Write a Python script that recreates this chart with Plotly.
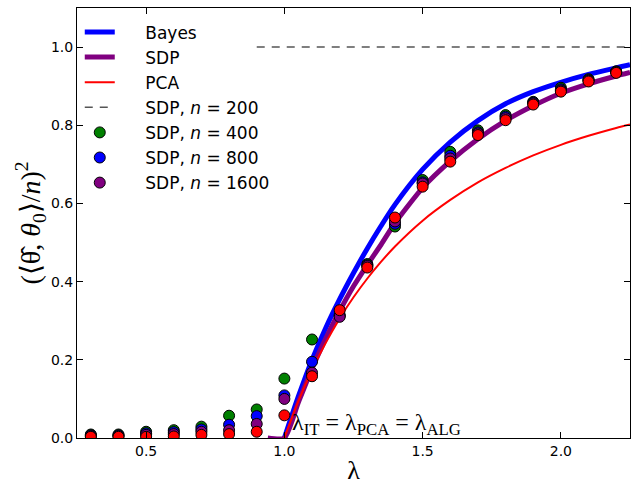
import plotly.graph_objects as go

# ---- data ----
lam_pts = [0.3, 0.4, 0.5, 0.6, 0.7, 0.8, 0.9, 1.0, 1.1, 1.2, 1.3, 1.4, 1.5, 1.6, 1.7, 1.8, 1.9, 2.0, 2.1, 2.2]
sdp_n400 = [0.009, 0.009, 0.016, 0.020, 0.029, 0.057, 0.073, 0.152, 0.252, 0.312, 0.445, 0.541, 0.660, 0.732, 0.787, 0.826, 0.860, 0.896, 0.918, 0.938]
sdp_n800 = [0.007, 0.007, 0.012, 0.015, 0.022, 0.034, 0.056, 0.109, 0.195, 0.315, 0.442, 0.548, 0.654, 0.722, 0.782, 0.822, 0.858, 0.892, 0.916, 0.937]
sdp_n1600 = [0.005, 0.005, 0.008, 0.010, 0.016, 0.020, 0.036, 0.100, 0.167, 0.310, 0.440, 0.554, 0.651, 0.715, 0.779, 0.818, 0.856, 0.889, 0.914, 0.936]
sdp_extra = [0.003, 0.003, 0.003, 0.004, 0.008, 0.010, 0.016, 0.058, 0.158, 0.327, 0.436, 0.564, 0.643, 0.707, 0.775, 0.813, 0.853, 0.886, 0.912, 0.934]

lam_curve = [1.0, 1.05, 1.1, 1.15, 1.2, 1.25, 1.3, 1.35, 1.4, 1.5, 1.6, 1.7, 1.8, 1.9, 2.0, 2.1, 2.2, 2.25]
bayes = [0.0, 0.105, 0.200, 0.282, 0.355, 0.422, 0.485, 0.543, 0.597, 0.687, 0.757, 0.812, 0.855, 0.886, 0.910, 0.930, 0.947, 0.955]
pca = [0.0, 0.093, 0.174, 0.244, 0.306, 0.360, 0.408, 0.451, 0.490, 0.556, 0.609, 0.654, 0.691, 0.723, 0.750, 0.773, 0.793, 0.802]
lam_sdp = [0.94, 1.0, 1.05, 1.1, 1.15, 1.2, 1.25, 1.3, 1.35, 1.4, 1.5, 1.6, 1.7, 1.8, 1.9, 2.0, 2.1, 2.2, 2.25]
sdp_curve = [0.0, 0.0, 0.090, 0.178, 0.255, 0.325, 0.388, 0.443, 0.495, 0.550, 0.640, 0.708, 0.765, 0.812, 0.850, 0.882, 0.906, 0.926, 0.935]

lam_n200 = [0.9, 2.25]
sdp_n200 = [1.0, 1.0]

x_ticks = [0.5, 1.0, 1.5, 2.0]
y_ticks = [0.0, 0.2, 0.4, 0.6, 0.8, 1.0]

pad = "\u2002\u2002\u2002"

fig = go.Figure()
fig.add_trace(go.Scatter(x=lam_curve, y=bayes, mode="lines", name=pad + "Bayes",
                         line=dict(color="#0000ff", width=5, shape="spline", smoothing=0.8)))
fig.add_trace(go.Scatter(x=lam_sdp, y=sdp_curve, mode="lines", name=pad + "SDP",
                         line=dict(color="#800080", width=5, shape="spline", smoothing=0.6)))
fig.add_trace(go.Scatter(x=lam_curve, y=pca, mode="lines", name=pad + "PCA",
                         line=dict(color="#ff0000", width=2, shape="spline", smoothing=0.8)))
fig.add_trace(go.Scatter(x=lam_n200, y=sdp_n200, mode="lines", name=pad + "SDP, <i>n</i> = 200",
                         line=dict(color="#555555", width=1.5, dash="8px,7px")))
mk = dict(size=11, line=dict(color="black", width=1))
fig.add_trace(go.Scatter(x=lam_pts, y=sdp_n400, mode="markers", name=pad + "SDP, <i>n</i> = 400",
                         marker=dict(color="#008000", **mk)))
fig.add_trace(go.Scatter(x=lam_pts, y=sdp_n800, mode="markers", name=pad + "SDP, <i>n</i> = 800",
                         marker=dict(color="#0000ff", **mk)))
fig.add_trace(go.Scatter(x=lam_pts, y=sdp_n1600, mode="markers", name=pad + "SDP, <i>n</i> = 1600",
                         marker=dict(color="#800080", **mk)))
fig.add_trace(go.Scatter(x=lam_pts, y=sdp_extra, mode="markers", showlegend=False,
                         marker=dict(color="#ff0000", **mk)))

fig.add_annotation(x=1.02, y=0.0, xref="x", yref="y", xanchor="left", yanchor="bottom",
                   text="λ<sub>IT</sub> = λ<sub>PCA</sub> = λ<sub>ALG</sub>", showarrow=False,
                   font=dict(family="Liberation Serif", size=24, color="black"), yshift=-3)

axis_common = dict(showline=True, mirror="ticks", linecolor="black", linewidth=1,
                   ticks="inside", ticklen=6, tickcolor="black", showgrid=False, zeroline=False,
                   tickfont=dict(family="DejaVu Sans", size=14, color="black"))
fig.update_xaxes(range=[0.25, 2.25], tickvals=x_ticks, tickformat=".1f",
                 title=dict(text="λ", font=dict(family="Liberation Serif", size=26, color="black"), standoff=4),
                 **axis_common)
fig.update_yaxes(range=[0.0, 1.1], tickvals=y_ticks, tickformat=".1f",
                 title=dict(text="(⟨\u03b8\u0302, <i>θ</i><sub>0</sub>⟩/<i>n</i>)<sup>2</sup>",
                            font=dict(family="Liberation Serif", size=28, color="black"), standoff=2),
                 **axis_common)
fig.update_layout(width=631, height=485, margin=dict(l=77, r=1, t=8, b=47),
                  plot_bgcolor="white", paper_bgcolor="white",
                  legend=dict(x=0.005, y=0.985, xanchor="left", yanchor="top", bgcolor="rgba(0,0,0,0)",
                              font=dict(family="DejaVu Sans", size=17, color="black"), tracegroupgap=0),
                  showlegend=True)
fig.write_html("out.html")
